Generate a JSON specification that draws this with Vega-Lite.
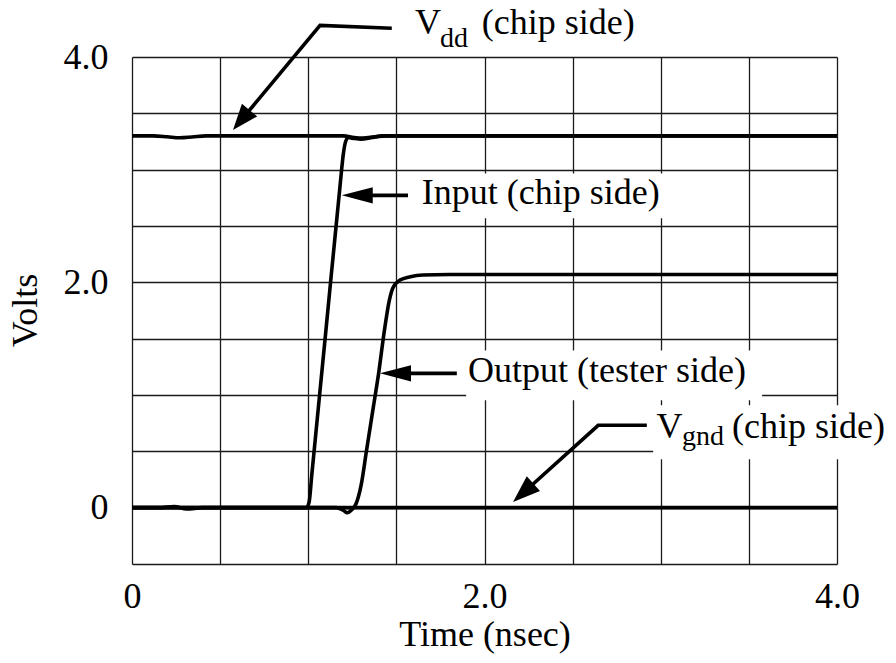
{
  "$schema": "https://vega.github.io/schema/vega-lite/v6.json",
  "width": 705,
  "height": 507,
  "autosize": {"type": "none"},
  "padding": {"left": 132, "top": 57, "right": 59, "bottom": 99},
  "background": "white",
  "config": {
    "view": {"stroke": null},
    "font": "Liberation Serif",
    "axis": {
      "grid": true,
      "gridColor": "#1a1a1a",
      "gridWidth": 1.3,
      "gridOpacity": 1,
      "ticks": false,
      "tickSize": 0,
      "domain": false,
      "labelFont": "Liberation Serif",
      "titleFont": "Liberation Serif",
      "labelFontSize": 36,
      "titleFontSize": 36,
      "labelColor": "black",
      "titleColor": "black",
      "titleFontWeight": "normal",
      "labelOverlap": false,
      "labelBound": false,
      "labelFlush": false
    }
  },
  "datasets": {
    "traces": [
      {"series": "Vdd", "t": 0.0, "v": 3.3},
      {"series": "Vdd", "t": 0.12, "v": 3.3},
      {"series": "Vdd", "t": 0.2, "v": 3.292},
      {"series": "Vdd", "t": 0.27, "v": 3.283},
      {"series": "Vdd", "t": 0.34, "v": 3.29},
      {"series": "Vdd", "t": 0.42, "v": 3.3},
      {"series": "Vdd", "t": 1.2, "v": 3.3},
      {"series": "Vdd", "t": 1.26, "v": 3.285},
      {"series": "Vdd", "t": 1.31, "v": 3.28},
      {"series": "Vdd", "t": 1.38, "v": 3.292},
      {"series": "Vdd", "t": 1.45, "v": 3.3},
      {"series": "Vdd", "t": 4.0, "v": 3.3},
      {"series": "Vgnd", "t": 0.0, "v": 0.0},
      {"series": "Vgnd", "t": 0.15, "v": 0.0},
      {"series": "Vgnd", "t": 0.24, "v": 0.01},
      {"series": "Vgnd", "t": 0.31, "v": -0.012},
      {"series": "Vgnd", "t": 0.4, "v": 0.0},
      {"series": "Vgnd", "t": 4.0, "v": 0.0},
      {"series": "Input", "t": 0.0, "v": 0.0},
      {"series": "Input", "t": 0.99, "v": 0.0},
      {"series": "Input", "t": 1.005, "v": 0.05},
      {"series": "Input", "t": 1.02, "v": 0.29},
      {"series": "Input", "t": 1.1, "v": 1.57},
      {"series": "Input", "t": 1.18, "v": 2.85},
      {"series": "Input", "t": 1.2, "v": 3.15},
      {"series": "Input", "t": 1.212, "v": 3.25},
      {"series": "Input", "t": 1.228, "v": 3.285},
      {"series": "Input", "t": 1.25, "v": 3.28},
      {"series": "Input", "t": 1.3, "v": 3.27},
      {"series": "Input", "t": 1.36, "v": 3.285},
      {"series": "Input", "t": 1.42, "v": 3.3},
      {"series": "Input", "t": 4.0, "v": 3.3},
      {"series": "Output", "t": 0.0, "v": 0.0},
      {"series": "Output", "t": 1.16, "v": 0.0},
      {"series": "Output", "t": 1.2, "v": -0.025},
      {"series": "Output", "t": 1.222, "v": -0.045},
      {"series": "Output", "t": 1.245, "v": -0.02},
      {"series": "Output", "t": 1.27, "v": 0.03},
      {"series": "Output", "t": 1.3, "v": 0.2},
      {"series": "Output", "t": 1.33, "v": 0.5},
      {"series": "Output", "t": 1.37, "v": 0.9},
      {"series": "Output", "t": 1.4, "v": 1.2},
      {"series": "Output", "t": 1.43, "v": 1.55},
      {"series": "Output", "t": 1.46, "v": 1.84},
      {"series": "Output", "t": 1.48, "v": 1.95},
      {"series": "Output", "t": 1.52, "v": 2.02},
      {"series": "Output", "t": 1.58, "v": 2.05},
      {"series": "Output", "t": 1.65, "v": 2.065},
      {"series": "Output", "t": 1.8, "v": 2.07},
      {"series": "Output", "t": 4.0, "v": 2.07}
    ],
    "shafts": [
      {"arrow": "Vdd", "seq": 1, "t": 1.474, "v": 4.255},
      {"arrow": "Vdd", "seq": 2, "t": 1.067, "v": 4.281},
      {"arrow": "Vdd", "seq": 3, "t": 0.615, "v": 3.431},
      {"arrow": "Input", "seq": 1, "t": 1.566, "v": 2.772},
      {"arrow": "Input", "seq": 2, "t": 1.258, "v": 2.772},
      {"arrow": "Output", "seq": 1, "t": 1.843, "v": 1.192},
      {"arrow": "Output", "seq": 2, "t": 1.476, "v": 1.192},
      {"arrow": "Vgnd", "seq": 1, "t": 2.921, "v": 0.731},
      {"arrow": "Vgnd", "seq": 2, "t": 2.645, "v": 0.731},
      {"arrow": "Vgnd", "seq": 3, "t": 2.213, "v": 0.121}
    ],
    "boxes": [
      {"t": 1.589, "t2": 3.065, "v": 2.967, "v2": 2.568},
      {"t": 1.896, "t2": 3.575, "v": 1.396, "v2": 0.953},
      {"t": 2.957, "t2": 4.34, "v": 0.909, "v2": 0.429}
    ],
    "labels": [
      {"t": 1.606, "v": 4.207, "label": "V"},
      {"t": 1.985, "v": 4.207, "label": "(chip side)"},
      {"t": 1.644, "v": 2.692, "label": "Input (chip side)"},
      {"t": 1.907, "v": 1.115, "label": "Output (tester side)"},
      {"t": 2.976, "v": 0.615, "label": "V"},
      {"t": 3.404, "v": 0.615, "label": "(chip side)"}
    ],
    "subscripts": [
      {"t": 1.748, "v": 4.089, "label": "dd"},
      {"t": 3.12, "v": 0.553, "label": "gnd"}
    ]
  },
  "encoding": {
    "x": {
      "field": "t",
      "type": "quantitative",
      "scale": {"domain": [0, 4], "nice": false, "zero": false},
      "axis": {
        "values": [0, 0.5, 1, 1.5, 2, 2.5, 3, 3.5, 4],
        "labelExpr": "datum.value == 0 ? '0' : datum.value == 2 ? '2.0' : datum.value == 4 ? '4.0' : ''",
        "labelPadding": 15,
        "title": "Time (nsec)",
        "titleY": 70,
        "titleBaseline": "middle"
      }
    },
    "y": {
      "field": "v",
      "type": "quantitative",
      "scale": {"domain": [-0.5, 4], "nice": false, "zero": false},
      "axis": {
        "values": [-0.5, 0, 0.5, 1, 1.5, 2, 2.5, 3, 3.5, 4],
        "labelExpr": "datum.value == 0 ? '0' : datum.value == 2 ? '2.0' : datum.value == 4 ? '4.0' : ''",
        "labelPadding": 24,
        "labelBaseline": "middle",
        "title": "Volts",
        "titleX": -107,
        "titleY": 253,
        "titleAlign": "center",
        "titleBaseline": "middle"
      }
    }
  },
  "layer": [
    {
      "data": {"name": "boxes"},
      "mark": {"type": "rect", "fill": "white", "stroke": null, "clip": false},
      "encoding": {"x2": {"field": "t2"}, "y2": {"field": "v2"}}
    },
    {
      "data": {"name": "traces"},
      "mark": {"type": "line", "color": "black", "strokeWidth": 3.6, "interpolate": "monotone", "strokeJoin": "round", "strokeCap": "butt", "clip": false},
      "encoding": {"detail": {"field": "series"}}
    },
    {
      "data": {"name": "shafts"},
      "mark": {"type": "line", "color": "black", "strokeWidth": 3.6, "strokeJoin": "miter", "strokeCap": "butt", "clip": false},
      "encoding": {"detail": {"field": "arrow"}, "order": {"field": "seq"}}
    },
    {
      "data": {"values": [{"t": 0.573, "v": 3.351}]},
      "mark": {"type": "point", "shape": "M0,0 L0.38,1 L-0.38,1 Z", "angle": 219.6, "size": 2704, "filled": true, "color": "black", "opacity": 1, "strokeWidth": 0, "clip": false}
    },
    {
      "data": {"values": [{"t": 2.162, "v": 0.05}]},
      "mark": {"type": "point", "shape": "M0,0 L0.36,1 L-0.36,1 Z", "angle": 227.9, "size": 3000, "filled": true, "color": "black", "opacity": 1, "strokeWidth": 0, "clip": false}
    },
    {
      "data": {"values": [{"t": 1.19, "v": 2.772}, {"t": 1.407, "v": 1.192}]},
      "mark": {"type": "point", "shape": "M0,0 L0.26,1 L-0.26,1 Z", "angle": 270, "size": 3844, "filled": true, "color": "black", "opacity": 1, "strokeWidth": 0, "clip": false}
    },
    {
      "data": {"name": "labels"},
      "mark": {"type": "text", "align": "left", "baseline": "alphabetic", "font": "Liberation Serif", "fontSize": 36, "color": "black", "clip": false},
      "encoding": {"text": {"field": "label"}}
    },
    {
      "data": {"name": "subscripts"},
      "mark": {"type": "text", "align": "left", "baseline": "alphabetic", "font": "Liberation Serif", "fontSize": 28, "color": "black", "clip": false},
      "encoding": {"text": {"field": "label"}}
    }
  ]
}
